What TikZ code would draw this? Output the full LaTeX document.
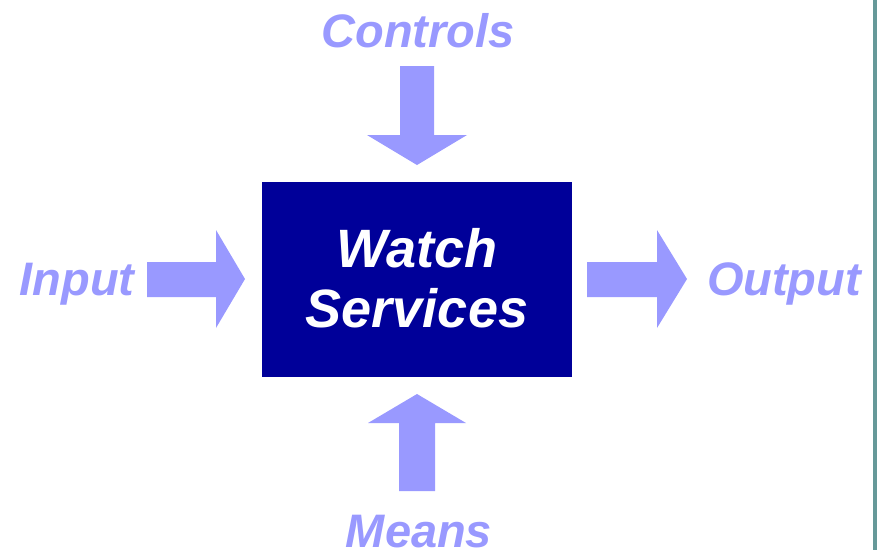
\documentclass[tikz,border=0pt]{standalone}
\usepackage{fontspec}
\setmainfont{Liberation Sans}
\definecolor{arrowblue}{HTML}{9999FF}
\definecolor{boxblue}{HTML}{000099}
\definecolor{edgeteal}{HTML}{669999}
\begin{document}
\begin{tikzpicture}[x=1pt,y=-1pt,
  lbl/.style={text=arrowblue,font=\fontsize{47}{50}\selectfont\bfseries\itshape,anchor=base,inner sep=0pt},
  fatarrow/.style={fill=arrowblue,draw=none}]
\useasboundingbox (0,0) rectangle (877,550);
\fill[edgeteal] (873,0) rectangle (877,550);
% box
\node[fill=boxblue,minimum width=310pt,minimum height=195pt,inner sep=0pt,anchor=north west] (box) at (262,182) {};
\node[text=white,font=\fontsize{54}{60}\selectfont\bfseries\itshape,anchor=base,inner sep=0pt] (w1) at (417,267) {Watch};
\node[text=white,font=\fontsize{54}{60}\selectfont\bfseries\itshape,anchor=base,inner sep=0pt] (w2) at (417,327) {Services};
% labels
\node[lbl] (controls) at (418,47) {Controls};
\node[lbl] (input) at (77,295) {Input};
\node[lbl] (output) at (784,295) {Output};
\node[lbl] (means) at (419,547) {Means};
% controls arrow (down)
\fill[fatarrow] (400,66) -- (434,66) -- (434,135) -- (467,135) -- (417,165) -- (367,135) -- (400,135) -- cycle;
% means arrow (up)
\fill[fatarrow] (399,491) -- (435,491) -- (435,423) -- (466,423) -- (417,394) -- (368,423) -- (399,423) -- cycle;
% input arrow (right)
\fill[fatarrow] (147,262) -- (216,262) -- (216,230) -- (245,279) -- (216,328) -- (216,297) -- (147,297) -- cycle;
% output arrow (right)
\fill[fatarrow] (587,262) -- (657,262) -- (657,230) -- (687,279) -- (657,328) -- (657,297) -- (587,297) -- cycle;
\end{tikzpicture}
\end{document}
